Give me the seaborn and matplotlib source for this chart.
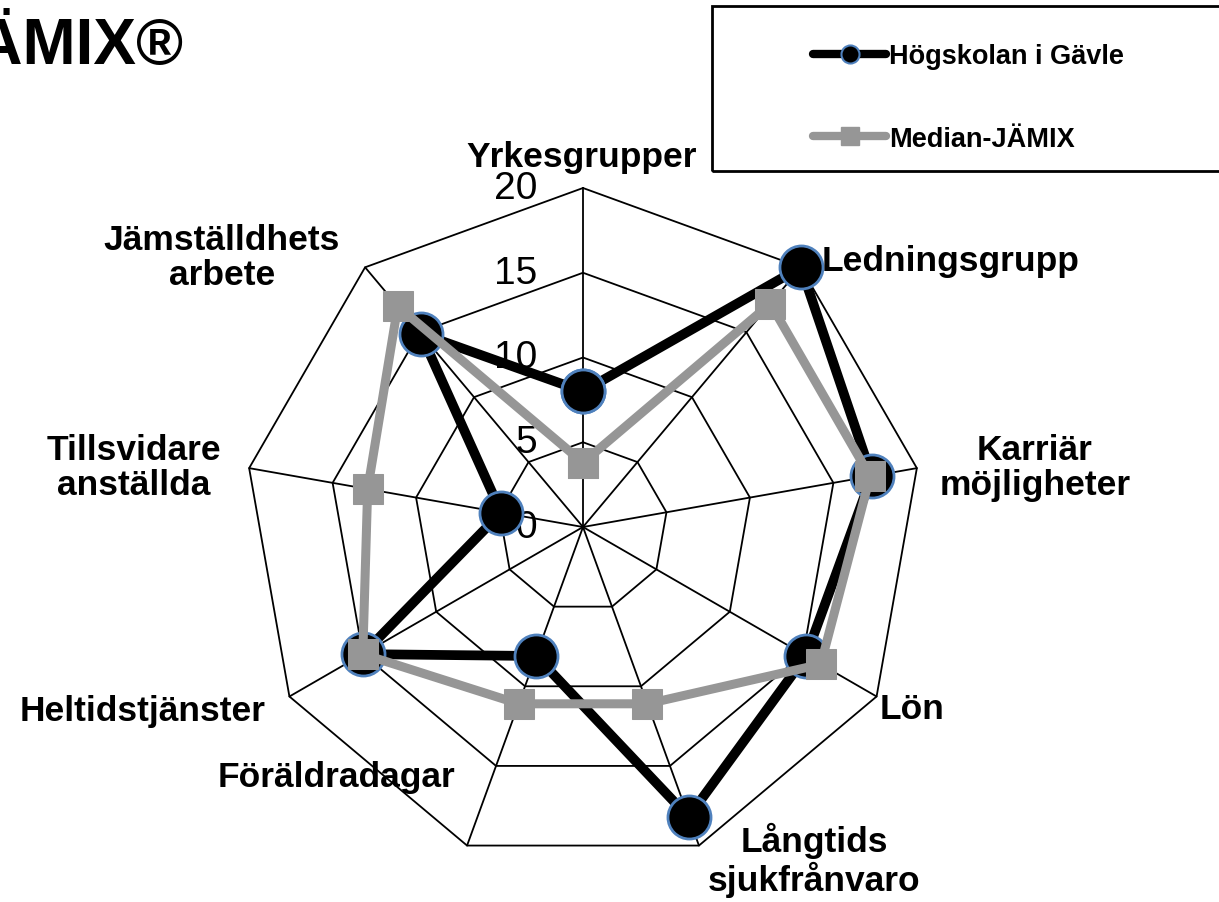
import numpy as np
import pandas as pd
import seaborn as sns
import matplotlib.pyplot as plt
from matplotlib.lines import Line2D
from matplotlib.patches import Rectangle
from matplotlib.transforms import ScaledTranslation

# data
categories = ["Yrkesgrupper", "Ledningsgrupp", "Karriär\nmöjligheter", "Lön",
              "Långtids\nsjukfrånvaro", "Föräldradagar", "Heltidstjänster",
              "Tillsvidare\nanställda", "Jämställdhets\narbete"]
hig_values = [8.0, 20.0, 17.3, 15.2, 18.2, 8.1, 15.0, 4.9, 14.9]
median_values = [3.8, 17.2, 17.2, 16.2, 11.1, 11.1, 15.0, 12.9, 17.0]
series_names = ["Högskolan i Gävle", "Median-JÄMIX"]
ring_ticks = [0, 5, 10, 15, 20]

# label centres in pixels (layout only)
label_pos = [(582, 157), (951, 262), (1035, 468), (912, 710), (814, 860),
             (337, 778), (143, 711), (134, 468), (222, 258)]

W, H = 1219, 903
BLUE = "#4F81BD"
GRAY = "#969696"

sns.set_style("white")
plt.rcParams["font.family"] = ["Liberation Sans", "DejaVu Sans"]
plt.rcParams["text.color"] = "black"

fig = plt.figure(figsize=(W / 100, H / 100), dpi=100)
cx, cy, rad = 583, 528, 339
ax = fig.add_axes([(cx - rad) / W, (H - cy - rad) / H, 2 * rad / W, 2 * rad / H],
                  projection="polar")
ax.set_theta_offset(np.pi / 2)
ax.set_theta_direction(-1)
ax.set_ylim(0, 20)
ax.grid(False)
ax.set_xticks([])
ax.set_yticks([])
ax.spines["polar"].set_visible(False)
ax.set_facecolor("none")

n = len(categories)
theta = np.linspace(0, 2 * np.pi, n + 1)

# polygon grid
for r in ring_ticks[1:]:
    ax.plot(theta, [r] * (n + 1), color="black", lw=1.3, zorder=1, clip_on=False)
for t in theta[:-1]:
    ax.plot([t, t], [0, ring_ticks[-1]], color="black", lw=1.3, zorder=1,
            clip_on=False)

# ring tick labels
off = ax.transData + ScaledTranslation(-0.46, 0, fig.dpi_scale_trans)
for r in ring_ticks:
    ax.text(0, r, str(r), transform=off, ha="right", va="center",
            fontsize=28, color="black", zorder=2)

df = pd.DataFrame({
    "theta": np.concatenate([theta, theta]),
    "value": hig_values + hig_values[:1] + median_values + median_values[:1],
    "serie": [series_names[0]] * (n + 1) + [series_names[1]] * (n + 1),
})

sns.lineplot(data=df[df.serie == series_names[0]], x="theta", y="value", ax=ax,
             sort=False, estimator=None, color="black", lw=7, marker="o",
             markersize=31, markerfacecolor="black", markeredgecolor=BLUE,
             markeredgewidth=2, solid_joinstyle="round", zorder=3,
             clip_on=False, legend=False)
sns.lineplot(data=df[df.serie == series_names[1]], x="theta", y="value", ax=ax,
             sort=False, estimator=None, color=GRAY, lw=6.5, marker="s",
             markersize=22, markerfacecolor=GRAY, markeredgecolor=GRAY,
             solid_joinstyle="round", zorder=4, clip_on=False, legend=False)
ax.set_xlabel("")
ax.set_ylabel("")
ax.set_ylim(0, 20)

# category labels
for lab, (px, py) in zip(categories, label_pos):
    fig.text(px / W, 1 - py / H, lab, ha="center", va="center", fontsize=25.5,
             fontweight="bold", linespacing=1.1, color="black")

# title (cut at the left edge as in the original)
fig.text(183 / W, 1 - 47 / H, "JÄMIX®", ha="right", va="center",
         fontsize=46, fontweight="bold", color="black")

# legend box
fig.patches.append(Rectangle((712 / W, 1 - 172 / H), 520 / W, 165 / H,
                             transform=fig.transFigure, fill=False,
                             edgecolor="black", lw=2))
handles = [
    Line2D([], [], color="black", lw=6, marker="o", markersize=13,
           markerfacecolor="black", markeredgecolor=BLUE, markeredgewidth=1.5,
           solid_capstyle="round"),
    Line2D([], [], color=GRAY, lw=6, marker="s", markersize=13,
           markerfacecolor=GRAY, markeredgecolor=GRAY, solid_capstyle="round"),
]
leg = fig.legend(handles, series_names, loc="upper left",
                 bbox_to_anchor=(813 / W, 1 - 44 / H), frameon=False,
                 prop={"weight": "bold", "size": 19.5}, handlelength=2.7,
                 handletextpad=0.1, labelspacing=2.1, borderpad=0,
                 borderaxespad=0)
for t in leg.get_texts():
    t.set_color("black")

fig.savefig("out.png", dpi=100)
